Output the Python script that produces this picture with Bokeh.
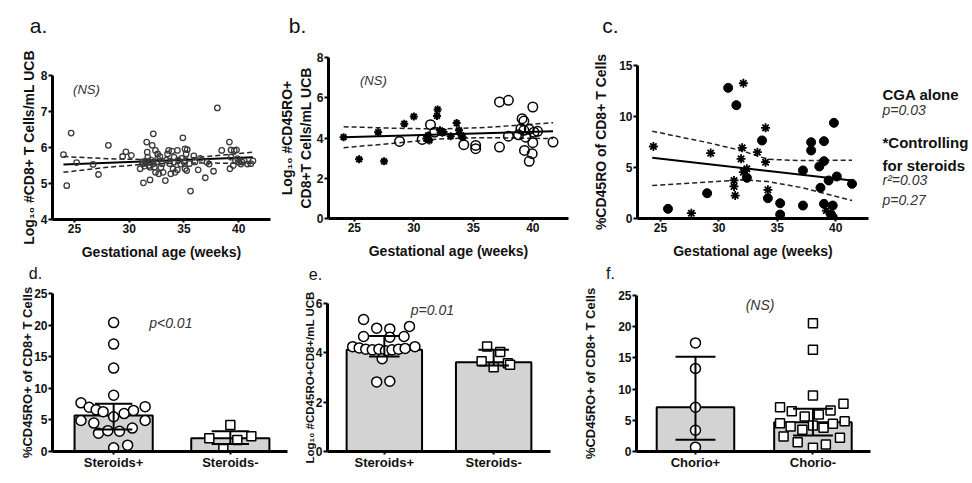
from bokeh.plotting import figure
from bokeh.layouts import column, row
from bokeh.models import Range1d, FixedTicker, Label
from bokeh.embed import file_html
from bokeh.resources import INLINE

FONT = "Liberation Sans"

# ---------------- data ----------------
# a. Log10 #CD8+ T cells/mL UCB vs gestational age
a_age = [24.0, 24.3, 24.7, 25.2, 26.7, 27.2, 28.1, 29.4, 29.7, 30.2, 31.0, 31.3, 31.9, 31.6, 32.2,
         32.1, 31.65, 31.7, 31.9, 31.5, 32.4, 32.6, 32.6, 32.3, 32.4, 32.7, 32.9, 33.1, 33.3, 33.5,
         33.6, 33.9, 34.1, 34.0, 33.8, 34.4, 34.9, 35.1, 35.2, 35.1, 35.6, 35.9, 34.7, 34.4, 34.1,
         34.2, 35.25, 36.3, 36.95, 37.3, 37.7, 38.05, 38.45, 39.15, 39.3, 39.6, 39.8, 39.3, 39.2,
         39.5, 39.9, 40.2, 40.5, 40.8, 41.3, 41.1, 39.7, 40.0, 40.3, 35.3, 37.1, 31.3, 31.5, 31.8,
         32.0, 32.2, 31.4, 32.5, 33.0, 31.2, 33.4, 32.8, 31.9, 33.7, 34.5, 35.0, 35.5, 34.8, 36.0, 36.5]
a_log_cd8 = [5.80, 4.94, 6.40, 5.58, 5.53, 5.25, 6.06, 5.75, 5.88, 5.78, 5.41, 5.02, 5.10, 6.15, 6.38,
             6.06, 5.87, 5.73, 5.59, 5.57, 5.92, 5.82, 5.69, 5.45, 5.31, 5.27, 5.44, 5.31, 5.08, 5.82,
             5.92, 5.90, 5.73, 5.41, 5.27, 5.92, 6.27, 5.96, 5.82, 5.41, 4.79, 5.77, 5.54, 5.38, 5.59,
             5.31, 5.36, 5.38, 5.16, 5.54, 5.34, 7.10, 5.92, 6.15, 5.93, 5.92, 5.93, 5.73, 5.41,
             5.50, 5.69, 5.54, 5.63, 5.54, 5.63, 5.55, 5.64, 5.59, 5.60, 5.94, 5.59, 5.55, 5.62, 5.50,
             5.65, 5.55, 5.48, 5.60, 5.55, 5.60, 5.65, 5.75, 5.45, 5.55, 5.65, 5.60, 5.55, 5.70, 5.60, 5.70]
a_fit_age = [24.0, 41.3]
a_fit = [5.53, 5.73]
a_ci_age = [24.0, 28.0, 32.0, 36.0, 41.3]
a_ci_upper = [5.75, 5.69, 5.66, 5.72, 5.87]
a_ci_lower = [5.31, 5.45, 5.55, 5.57, 5.56]

# b. Log10 #CD45RO+ CD8+ T cells/mL UCB
b_star_age = [24.1, 25.4, 27.0, 27.5, 29.2, 30.0, 32.0, 31.95, 31.2, 31.05, 31.3, 32.2, 32.4, 32.5,
              33.6, 33.8, 33.1, 34.0, 34.1]
b_star_val = [4.04, 2.94, 4.29, 2.84, 4.71, 5.07, 5.42, 5.09, 4.13, 3.97, 3.88, 4.38, 4.26, 4.30,
              4.74, 4.38, 4.09, 4.13, 4.04]
b_circ_age = [28.8, 30.7, 31.4, 31.75, 34.2, 35.2, 35.2, 37.2, 37.2, 37.95, 40.0, 37.95, 38.8, 39.0,
              39.1, 39.25, 39.25, 39.4, 39.7, 40.1, 40.4, 40.0, 39.3, 39.95, 39.7, 41.7]
b_circ_val = [3.83, 3.93, 4.66, 4.29, 3.67, 3.63, 3.47, 3.55, 5.79, 5.87, 5.54, 4.09, 4.16, 4.46,
              4.96, 4.84, 4.38, 4.04, 4.43, 4.29, 4.33, 3.77, 3.38, 3.22, 2.84, 3.80]
b_fit_age = [24.1, 41.7]
b_fit = [4.04, 4.33]
b_ci_age = [24.1, 28.0, 32.0, 36.0, 41.7]
b_ci_upper = [4.56, 4.49, 4.45, 4.52, 4.76]
b_ci_lower = [3.52, 3.72, 3.95, 4.02, 3.97]

# c. %CD45RO of CD8+ T cells
c_dot_age = [30.8, 31.5, 25.65, 29.0, 33.7, 32.4, 34.2, 35.25, 35.25, 37.2, 37.2, 37.9, 37.9, 39.0,
             39.85, 38.6, 39.0, 38.7, 39.4, 40.1, 41.4, 39.0, 39.75, 39.6, 39.75]
c_dot_val = [12.81, 11.11, 0.95, 2.48, 7.65, 3.99, 1.99, 1.50, 0.39, 4.71, 1.27, 7.48, 6.67, 7.58,
             9.38, 5.10, 5.62, 3.01, 3.73, 4.12, 3.40, 1.44, 1.27, 0.39, 0.13]
c_star_age = [32.1, 24.4, 29.3, 32.0, 31.9, 33.3, 34.0, 34.0, 32.4, 32.1, 31.3, 31.3, 31.4, 34.2,
              27.65, 39.2]
c_star_val = [13.26, 7.06, 6.41, 6.93, 5.85, 6.50, 8.89, 5.52, 4.87, 4.54, 3.73, 3.14, 2.25, 2.81,
              0.52, 0.78]
c_fit_age = [24.3, 41.4]
c_fit = [5.95, 3.73]
c_ci_age = [24.3, 29.0, 31.9, 34.2, 37.0, 41.4]
c_ci_upper = [8.56, 7.45, 6.67, 5.80, 5.68, 5.72]
c_ci_lower = [3.24, 3.56, 3.79, 3.62, 3.05, 1.76]
c_notes = ["CGA alone", "p=0.03", "*Controlling", "for steroids", "r\u00b2=0.03", "p=0.27"]

# d. %CD45RO+ by steroid exposure
steroid_labels = ["Steroids+", "Steroids-"]
d_bar = [5.7, 2.1]
d_err_lo = [3.48, 1.2]
d_err_hi = [7.54, 3.2]
d_pos_vals = [20.4, 17.0, 13.2, 8.9, 7.7, 7.0, 6.6, 6.3, 6.0, 6.5, 7.1, 5.5, 4.9, 4.5, 4.9, 2.9,
              3.3, 3.2, 3.7, 0.6, 1.0]
d_pos_jitter = [0, 0, 0, 0, -0.28, -0.21, -0.15, -0.09, 0.09, 0.17, 0.27, 0, -0.28, -0.17, 0.27,
                -0.13, -0.05, 0.05, 0.16, 0, 0.12]
d_neg_vals = [4.2, 2.1, 2.4, 1.8, 0.4]
d_neg_jitter = [0, -0.18, 0.18, 0.06, -0.06]

# e. Log10 #CD45RO+CD8+/mL UCB by steroid exposure
e_bar = [4.12, 3.62]
e_err_lo = [3.85, 3.49]
e_err_hi = [4.68, 4.13]
e_pos_vals = [5.35, 5.0, 4.97, 5.07, 4.66, 4.63, 4.66, 4.25, 4.2, 4.15, 4.12, 4.15, 4.08, 4.12,
              4.15, 4.18, 4.25, 3.76, 2.82, 2.85]
e_pos_jitter = [-0.19, -0.07, 0.05, 0.23, -0.19, 0.05, 0.18, -0.29, -0.23, -0.17, -0.11, -0.05,
                0.01, 0.07, 0.13, 0.19, 0.28, -0.02, -0.07, 0.05]
e_neg_vals = [4.26, 4.03, 3.66, 3.42, 3.58, 3.52]
e_neg_jitter = [-0.06, 0.06, -0.11, 0.0, 0.13, 0.15]

# f. %CD45RO+ by chorioamnionitis
chorio_labels = ["Chorio+", "Chorio-"]
f_bar = [7.1, 4.7]
f_err_lo = [1.9, 2.56]
f_err_hi = [15.2, 6.84]
f_pos_vals = [17.4, 13.3, 7.1, 3.4, 0.7]
f_pos_jitter = [0, 0, 0, 0, 0]
f_neg_vals = [20.56, 16.3, 8.97, 7.1, 6.46, 5.6, 5.93, 6.57, 7.64, 4.54, 4.0, 3.48, 4.17, 3.8,
              4.43, 4.86, 2.4, 1.49, 1.12, 2.2, 0.59]
f_neg_jitter = [0, 0, 0, -0.28, -0.18, -0.07, 0.05, 0.15, 0.26, -0.28, -0.19, -0.09, 0, 0.09,
                0.17, 0.27, -0.25, -0.13, 0.11, 0.23, 0]

age_ticks = [25, 30, 35, 40]
panel_letters_top = ["a.", "b.", "c."]
panel_letters_bottom = ["d.", "e.", "f."]


# ---------------- helpers ----------------
def base_fig(width, height, xr, yr, xticks, yticks, border, xlabel=None, ylabel=None,
             ylabel_standoff=1, ylabel_size="14px"):
    l, r, t, b = border
    p = figure(width=width, height=height, x_range=Range1d(*xr), y_range=Range1d(*yr),
               output_backend="svg", toolbar_location=None,
               min_border_left=l, min_border_right=r, min_border_top=t, min_border_bottom=b)
    p.outline_line_color = None
    p.xgrid.visible = False
    p.ygrid.visible = False
    p.xaxis.ticker = FixedTicker(ticks=xticks)
    p.yaxis.ticker = FixedTicker(ticks=yticks)
    for ax in p.axis:
        ax.axis_line_width = 3
        ax.axis_line_color = "black"
        ax.major_tick_line_width = 2
        ax.major_tick_in = 0
        ax.major_tick_out = 4
        ax.minor_tick_line_color = None
        ax.major_label_text_font = FONT
        ax.major_label_text_font_style = "bold"
        ax.major_label_text_font_size = "12px"
        ax.major_label_text_color = "#111111"
        ax.axis_label_text_font = FONT
        ax.axis_label_text_font_style = "bold"
        ax.axis_label_text_font_size = "14px"
        ax.axis_label_text_color = "#111111"
    p.xaxis.major_label_standoff = 1
    p.yaxis.major_label_standoff = 1
    p.xaxis.major_tick_out = 3
    if xlabel:
        p.xaxis.axis_label = xlabel
        p.xaxis.axis_label_standoff = 8
    if ylabel:
        p.yaxis.axis_label = ylabel
        p.yaxis.axis_label_standoff = ylabel_standoff
        p.yaxis.axis_label_text_font_size = ylabel_size
    return p


def blank_fig(width, height):
    p = figure(width=width, height=height, x_range=Range1d(0, width), y_range=Range1d(height, 0),
               output_backend="svg", toolbar_location=None,
               min_border_left=0, min_border_right=0, min_border_top=0, min_border_bottom=0)
    p.axis.visible = False
    p.xgrid.visible = False
    p.ygrid.visible = False
    p.outline_line_color = None
    return p


def add_text(p, x, y, text, size="14px", style="normal", color="#111111", align="left",
             baseline="middle"):
    p.add_layout(Label(x=x, y=y, text=text, text_font=FONT, text_font_size=size,
                       text_font_style=style, text_color=color, text_align=align,
                       text_baseline=baseline))


def add_fit(p, fx, fy, cx, cu, cl):
    p.line(fx, fy, line_color="black", line_width=2)
    p.line(cx, cu, line_color="#222222", line_width=1.5, line_dash="5 3")
    p.line(cx, cl, line_color="#222222", line_width=1.5, line_dash="5 3")


def draw_points(p, cat, vals, jit, marker, size):
    xs = [cat + j for j in jit]
    p.scatter(xs, vals, marker=marker, size=size, fill_color="white", line_color="black",
              line_width=1.5)


def draw_err(p, lo, hi, cap=0.16):
    cats = [1, 2]
    p.segment(x0=cats, y0=lo, x1=cats, y1=hi, line_color="black", line_width=2)
    p.segment(x0=[c - cap for c in cats], y0=hi, x1=[c + cap for c in cats], y1=hi,
              line_color="black", line_width=2)
    p.segment(x0=[c - cap for c in cats], y0=lo, x1=[c + cap for c in cats], y1=lo,
              line_color="black", line_width=2)


GA = "Gestational age (weeks)"

# ---------------- header strip with a., b., c. ----------------
strip1 = blank_fig(972, 38)
for letter, x in zip(panel_letters_top, [38, 297, 610]):
    add_text(strip1, x, 25, letter, size="21px", align="center", baseline="alphabetic")

# ---------------- top row ----------------
pa = base_fig(275, 224, (23.0, 42.9), (4, 8), age_ticks, [4, 5, 6, 7, 8], (52, 5, 37, 43),
              xlabel=GA, ylabel="Log\u2081\u2080 #CD8+ T Cells/mL UCB", ylabel_standoff=1)
add_fit(pa, a_fit_age, a_fit, a_ci_age, a_ci_upper, a_ci_lower)
pa.scatter(a_age, a_log_cd8, marker="circle", size=5.5, fill_color=None, line_color="#3a3a3a",
           line_width=1.3)
add_text(pa, 26.1, 7.6, "(NS)", size="13px", style="italic", color="#333333", align="center")

pb = base_fig(315, 224, (22.83, 43.0), (0, 8), age_ticks, [0, 2, 4, 6, 8], (51, 22, 19, 44),
              xlabel=GA, ylabel="Log\u2081\u2080 #CD45RO+\nCD8+T Cells/mL UCB", ylabel_standoff=0)
add_fit(pb, b_fit_age, b_fit, b_ci_age, b_ci_upper, b_ci_lower)
pb.scatter(b_circ_age, b_circ_val, marker="circle", size=9.5, fill_color=None, line_color="black",
           line_width=1.5)
pb.scatter(b_star_age, b_star_val, marker="asterisk", size=8, line_color="black", line_width=2)
add_text(pb, 26.6, 6.87, "(NS)", size="13px", style="italic", color="#333333", align="center")

pc = base_fig(282, 224, (23.04, 42.81), (0, 15), age_ticks, [0, 5, 10, 15], (46, 4, 27, 44),
              xlabel=GA, ylabel="%CD45RO of CD8+ T Cells", ylabel_standoff=7)
add_fit(pc, c_fit_age, c_fit, c_ci_age, c_ci_upper, c_ci_lower)
pc.scatter(c_dot_age, c_dot_val, marker="circle", size=9, fill_color="black", line_color="black")
pc.scatter(c_star_age, c_star_val, marker="asterisk", size=9, line_color="black", line_width=1.8)

notes = blank_fig(100, 224)
note_style = [("15px", "bold", "#111111"), ("14px", "italic", "#333333"),
              ("15px", "bold", "#111111"), ("15px", "bold", "#111111"),
              ("14px", "italic", "#333333"), ("14px", "italic", "#333333")]
for txt, y, (sz, st, col) in zip(c_notes, [56, 71, 104, 127, 141, 161], note_style):
    add_text(notes, 10, y, txt, size=sz, style=st, color=col, baseline="alphabetic")

# ---------------- letter strip with d., e., f. ----------------
strip2 = blank_fig(972, 24)
for letter, x in zip(panel_letters_bottom, [35, 315, 610]):
    add_text(strip2, x, 11, letter, size="16px", align="center", baseline="middle")

# ---------------- bottom row ----------------
pd_ = base_fig(295, 197, (0.476, 2.49), (0, 25), [1, 2], [0, 5, 10, 15, 20, 25], (52, 8, 7, 32),
               ylabel="%CD45RO+ of CD8+ T Cells", ylabel_standoff=-4, ylabel_size="13px")
pd_.vbar(x=[1, 2], top=d_bar, bottom=0, width=0.67, fill_color="#d3d3d3", line_color="black",
         line_width=2)
draw_points(pd_, 1, d_pos_vals, d_pos_jitter, "circle", 10)
draw_points(pd_, 2, d_neg_vals, d_neg_jitter, "square", 9)
draw_err(pd_, d_err_lo, d_err_hi, cap=0.16)
add_text(pd_, 1.49, 20.3, "p<0.01", size="14px", style="italic", color="#333333", align="center")

pe = base_fig(285, 197, (0.48, 2.52), (0, 6), [1, 2], [0, 2, 4, 6], (32, 30, 17, 32),
              ylabel="Log\u2081\u2080 #CD45RO+CD8+/mL UCB", ylabel_standoff=-3,
              ylabel_size="11.5px")
pe.vbar(x=[1, 2], top=e_bar, bottom=0, width=0.69, fill_color="#d3d3d3", line_color="black",
        line_width=2)
draw_points(pe, 1, e_pos_vals, e_pos_jitter, "circle", 10)
draw_points(pe, 2, e_neg_vals, e_neg_jitter, "square", 9)
draw_err(pe, e_err_lo, e_err_hi, cap=0.14)
add_text(pe, 1.44, 5.72, "p=0.01", size="14px", style="italic", color="#333333", align="center")

pf = base_fig(392, 197, (0.498, 2.49), (0, 25), [1, 2], [0, 5, 10, 15, 20, 25], (56, 102, 9, 32),
              ylabel="%CD45RO+ of CD8+ T Cells", ylabel_standoff=17, ylabel_size="13px")
pf.vbar(x=[1, 2], top=f_bar, bottom=0, width=0.66, fill_color="#d3d3d3", line_color="black",
        line_width=2)
draw_points(pf, 1, f_pos_vals, f_pos_jitter, "circle", 10)
draw_points(pf, 2, f_neg_vals, f_neg_jitter, "square", 9)
draw_err(pf, f_err_lo, f_err_hi, cap=0.17)
add_text(pf, 1.55, 23.4, "(NS)", size="14px", style="italic", color="#333333", align="center")

for p_, labels in ((pd_, steroid_labels), (pe, steroid_labels), (pf, chorio_labels)):
    p_.xaxis.major_label_overrides = {1: labels[0], 2: labels[1]}
    p_.xaxis.major_label_text_font_size = "13px"
    p_.xaxis.major_label_standoff = 0

top_row = row(column(pa), column(pb), column(pc), column(notes))
bottom_row = row(column(pd_), column(pe), column(pf))
layout = column(strip1, top_row, strip2, bottom_row)
open("out.html", "w").write(file_html(layout, INLINE))
